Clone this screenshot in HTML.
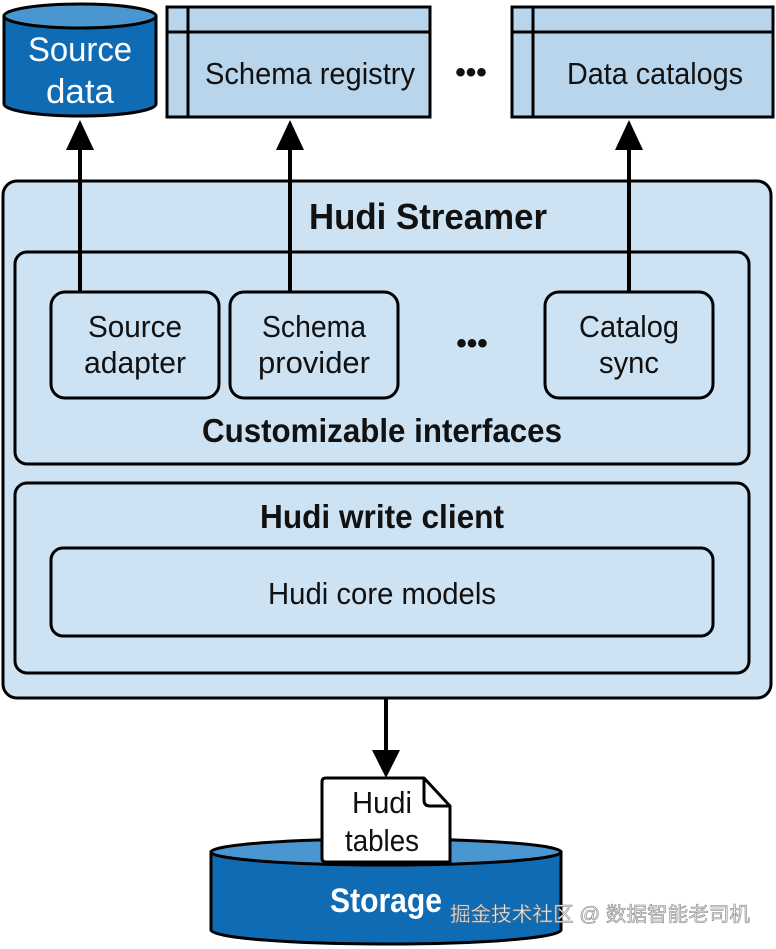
<!DOCTYPE html>
<html><head><meta charset="utf-8"><style>
html,body{margin:0;padding:0;background:#fff;}
svg{display:block;}
text{font-family:"Liberation Sans Narrow","Liberation Sans","DejaVu Sans Condensed",sans-serif;fill:#111;}
.b{font-weight:bold;}
</style></head><body>
<svg width="776" height="949" viewBox="0 0 776 949" xmlns="http://www.w3.org/2000/svg">
<defs>
<marker id="ah" markerWidth="10" markerHeight="10" refX="5" refY="5" orient="auto" markerUnits="userSpaceOnUse" viewBox="0 0 10 10"><path d="M0,0 L10,5 L0,10 z" fill="#000"/></marker>
</defs>
<!-- Source data cylinder -->
<path d="M4,16 L4,104 A76,12 0 0 0 156,104 L156,16 Z" fill="#0f6cb4" stroke="#000" stroke-width="3"/>
<ellipse cx="80" cy="16" rx="76" ry="12" fill="#4a96d0" stroke="#000" stroke-width="3"/>
<text x="80" y="61" font-size="34" text-anchor="middle" fill="#fff" style="fill:#fff" textLength="104" lengthAdjust="spacingAndGlyphs">Source</text>
<text x="80" y="103" font-size="34" text-anchor="middle" style="fill:#fff" textLength="68" lengthAdjust="spacingAndGlyphs">data</text>
<!-- Schema registry -->
<rect x="167" y="7" width="263" height="110" fill="#b8d5ec" stroke="#000" stroke-width="3"/>
<line x1="188" y1="7" x2="188" y2="117" stroke="#000" stroke-width="3"/>
<line x1="167" y1="32" x2="430" y2="32" stroke="#000" stroke-width="3"/>
<text x="310" y="84" font-size="31" text-anchor="middle" textLength="210" lengthAdjust="spacingAndGlyphs">Schema registry</text>
<text x="471" y="82" font-size="30" text-anchor="middle" class="b">•••</text>
<!-- Data catalogs -->
<rect x="512" y="7" width="261" height="110" fill="#b8d5ec" stroke="#000" stroke-width="3"/>
<line x1="533" y1="7" x2="533" y2="117" stroke="#000" stroke-width="3"/>
<line x1="512" y1="32" x2="773" y2="32" stroke="#000" stroke-width="3"/>
<text x="655" y="84" font-size="31" text-anchor="middle" textLength="176" lengthAdjust="spacingAndGlyphs">Data catalogs</text>
<!-- Streamer -->
<rect x="3" y="181" width="768" height="517" rx="14" fill="#cde2f2" stroke="#000" stroke-width="3"/>
<text x="428" y="229" font-size="36" text-anchor="middle" class="b" textLength="238" lengthAdjust="spacingAndGlyphs">Hudi Streamer</text>
<rect x="15" y="252" width="734" height="212" rx="12" fill="#cde2f2" stroke="#000" stroke-width="3"/>
<rect x="51" y="292" width="168" height="106" rx="14" fill="#cde2f2" stroke="#000" stroke-width="3"/>
<text x="135" y="337" font-size="31" text-anchor="middle" textLength="94" lengthAdjust="spacingAndGlyphs">Source</text>
<text x="135" y="373" font-size="31" text-anchor="middle" textLength="102" lengthAdjust="spacingAndGlyphs">adapter</text>
<rect x="230" y="292" width="168" height="106" rx="14" fill="#cde2f2" stroke="#000" stroke-width="3"/>
<text x="314" y="337" font-size="31" text-anchor="middle" textLength="104" lengthAdjust="spacingAndGlyphs">Schema</text>
<text x="314" y="373" font-size="31" text-anchor="middle" textLength="112" lengthAdjust="spacingAndGlyphs">provider</text>
<text x="472" y="353" font-size="30" text-anchor="middle" class="b">•••</text>
<rect x="545" y="292" width="168" height="106" rx="14" fill="#cde2f2" stroke="#000" stroke-width="3"/>
<text x="629" y="337" font-size="31" text-anchor="middle" textLength="100" lengthAdjust="spacingAndGlyphs">Catalog</text>
<text x="629" y="373" font-size="31" text-anchor="middle" textLength="60" lengthAdjust="spacingAndGlyphs">sync</text>
<text x="382" y="442" font-size="33" text-anchor="middle" class="b" textLength="360" lengthAdjust="spacingAndGlyphs">Customizable interfaces</text>
<rect x="15" y="483" width="734" height="190" rx="12" fill="#cde2f2" stroke="#000" stroke-width="3"/>
<text x="382" y="528" font-size="33" text-anchor="middle" class="b" textLength="244" lengthAdjust="spacingAndGlyphs">Hudi write client</text>
<rect x="51" y="548" width="662" height="88" rx="12" fill="#cde2f2" stroke="#000" stroke-width="3"/>
<text x="382" y="604" font-size="31" text-anchor="middle" textLength="228" lengthAdjust="spacingAndGlyphs">Hudi core models</text>
<!-- arrows up -->
<line x1="80" y1="292" x2="80" y2="148" stroke="#000" stroke-width="4"/>
<path d="M66,150 L80,120 L94,150 Z" fill="#000"/>
<line x1="290" y1="292" x2="290" y2="148" stroke="#000" stroke-width="4"/>
<path d="M276,150 L290,120 L304,150 Z" fill="#000"/>
<line x1="629" y1="292" x2="629" y2="148" stroke="#000" stroke-width="4"/>
<path d="M615,150 L629,120 L643,150 Z" fill="#000"/>
<!-- arrow down -->
<line x1="386" y1="698" x2="386" y2="752" stroke="#000" stroke-width="4"/>
<path d="M372,750 L386,778 L400,750 Z" fill="#000"/>
<!-- Storage -->
<path d="M211,852 L211,930 A175,14 0 0 0 561,930 L561,852 Z" fill="#0f6cb4" stroke="#000" stroke-width="3"/>
<ellipse cx="386" cy="852" rx="175" ry="13" fill="#4a96d0" stroke="#000" stroke-width="3"/>
<path d="M326,778 L424,778 L450,806 L450,862 L326,862 Q322,862 322,858 L322,782 Q322,778 326,778 Z" fill="#fff" stroke="#000" stroke-width="3" stroke-linejoin="round"/>
<path d="M424,778 L424,800 Q424,806 430,806 L450,806" fill="none" stroke="#000" stroke-width="3"/>
<text x="382" y="813" font-size="31" text-anchor="middle" textLength="60" lengthAdjust="spacingAndGlyphs">Hudi</text>
<text x="382" y="851" font-size="31" text-anchor="middle" textLength="74" lengthAdjust="spacingAndGlyphs">tables</text>
<text x="386" y="912" font-size="34" text-anchor="middle" class="b" style="fill:#fff" textLength="112" lengthAdjust="spacingAndGlyphs">Storage</text>
<text x="450" y="921" font-size="20" style="font-family:'Liberation Sans','Noto Sans CJK SC',sans-serif;fill:#e8e8e8;stroke:#777;stroke-width:0.5" textLength="300" lengthAdjust="spacingAndGlyphs">掘金技术社区 @ 数据智能老司机</text>
</svg>
</body></html>
